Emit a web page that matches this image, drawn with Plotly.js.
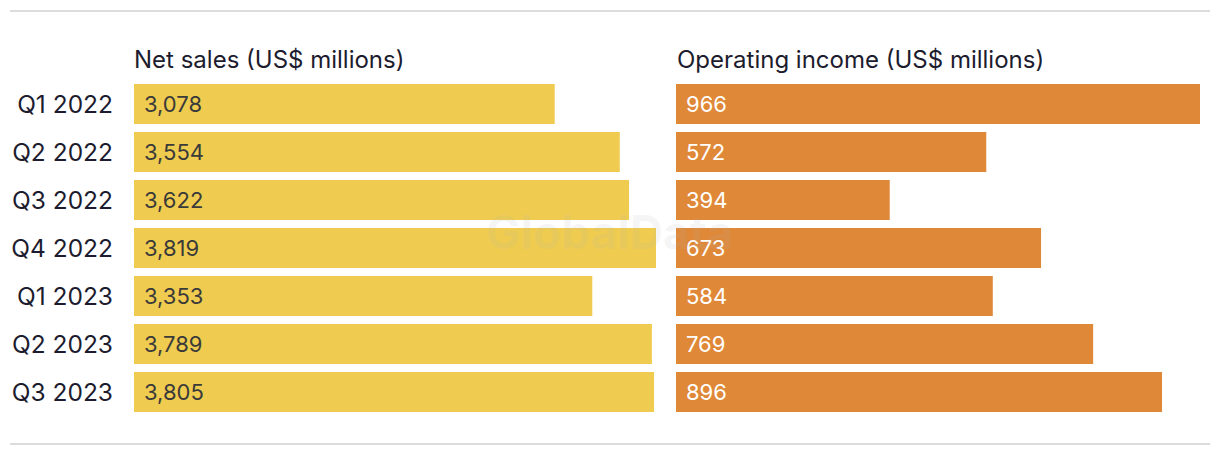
<!DOCTYPE html>
<html><head><meta charset="utf-8">
<script src="https://cdn.plot.ly/plotly-3.0.1.min.js"></script>
<style>html,body{margin:0;padding:0;background:#fff;}#chart{width:1220px;height:456px;}</style>
</head><body><div id="chart"></div>
<script>
const quarters = ["Q1 2022","Q2 2022","Q3 2022","Q4 2022","Q1 2023","Q2 2023","Q3 2023"];
const netSales = [3078,3554,3622,3819,3353,3789,3805];
const operatingIncome = [966,572,394,673,584,769,896];
const leftTitle = "Net sales (US$ millions)";
const rightTitle = "Operating income (US$ millions)";

const FONT = "Inter, 'Noto Sans', sans-serif";
const fmt = v => v.toLocaleString('en-US');

const traces = [
  {type:'bar', orientation:'h', y:quarters, x:netSales, xaxis:'x', yaxis:'y',
   marker:{color:'#EFCC4F'}, hoverinfo:'none'},
  {type:'bar', orientation:'h', y:quarters, x:operatingIncome, xaxis:'x2', yaxis:'y2',
   marker:{color:'#DF8838'}, hoverinfo:'none'}
];

const annotations = [];
quarters.forEach((q,i)=>{
  annotations.push({x:0, y:q, xref:'x', yref:'y', text:fmt(netSales[i]), showarrow:false,
    xanchor:'left', xshift:8, font:{family:FONT, size:22, color:'#3a3a3a'}});
  annotations.push({x:0, y:q, xref:'x2', yref:'y2', text:fmt(operatingIncome[i]), showarrow:false,
    xanchor:'left', xshift:8, font:{family:FONT, size:22, color:'#ffffff'}});
});
annotations.push({x:132/1220, y:(456-60)/456, xref:'paper', yref:'paper', text:leftTitle, showarrow:false,
  xanchor:'left', yanchor:'middle', font:{family:FONT, size:24, color:'#1c1c2e'}});
annotations.push({x:675/1220, y:(456-60)/456, xref:'paper', yref:'paper', text:rightTitle, showarrow:false,
  xanchor:'left', yanchor:'middle', font:{family:FONT, size:24, color:'#1c1c2e'}});
annotations.push({x:610/1220, y:(456-232)/456, xref:'paper', yref:'paper', text:'<b>GlobalData</b>', showarrow:false,
  xanchor:'center', yanchor:'middle', font:{family:FONT, size:46, color:'rgba(180,180,180,0.12)'}});

const yBase = {type:'category', autorange:'reversed', domain:[40/456, 376/456], showgrid:false,
  zeroline:false, showline:false, ticks:'', fixedrange:true};

const layout = {
  width:1220, height:456, margin:{l:0,r:0,t:0,b:0},
  paper_bgcolor:'#ffffff', plot_bgcolor:'#ffffff',
  showlegend:false, bargap:0.1667,
  font:{family:FONT, size:20, color:'#1c1c2e'},
  xaxis:{domain:[134/1220, 656/1220], range:[0,3819], visible:false, fixedrange:true},
  xaxis2:{domain:[676/1220, 1200/1220], range:[0,966], visible:false, fixedrange:true},
  yaxis:Object.assign({}, yBase, {anchor:'x', showticklabels:true, ticklabelstandoff:20,
    tickfont:{family:FONT, size:24.5, color:'#1c1c2e'}}),
  yaxis2:Object.assign({}, yBase, {anchor:'x2', showticklabels:false}),
  annotations:annotations,
  shapes:[
    {type:'line', xref:'paper', yref:'paper', x0:10/1220, x1:1210/1220, y0:(456-11)/456, y1:(456-11)/456,
     line:{color:'#dcdcdc', width:2}},
    {type:'line', xref:'paper', yref:'paper', x0:10/1220, x1:1210/1220, y0:(456-444)/456, y1:(456-444)/456,
     line:{color:'#dcdcdc', width:2}}
  ]
};

Plotly.newPlot('chart', traces, layout, {displayModeBar:false, staticPlot:true});
</script></body></html>
